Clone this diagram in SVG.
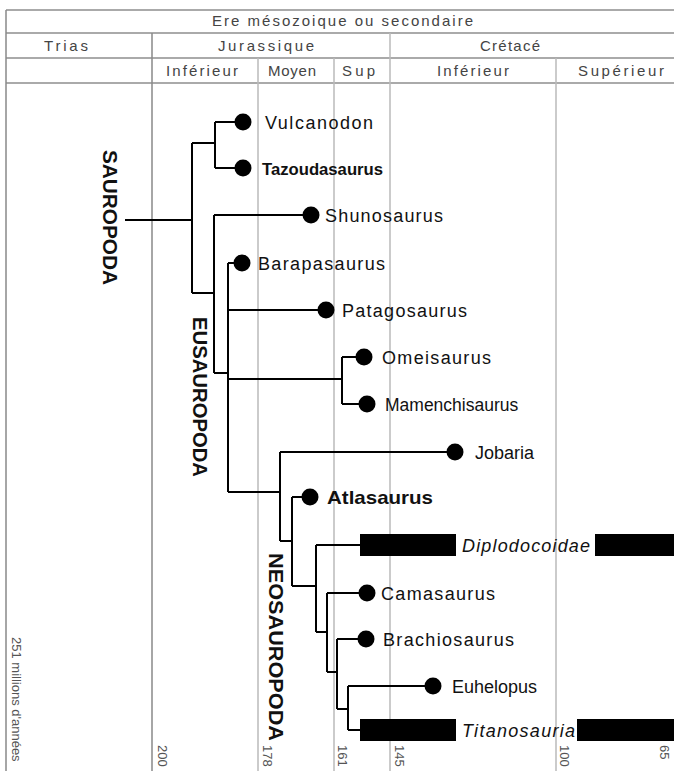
<svg xmlns="http://www.w3.org/2000/svg" width="674" height="771" viewBox="0 0 674 771">
<style>
.hdr{font-family:"Liberation Sans",Arial,sans-serif;font-size:15px;fill:#444}
.lab{font-family:"Liberation Sans",Arial,sans-serif;font-size:18px;fill:#111}
.bold{font-weight:bold;font-size:17px}
.it{font-style:italic}
.clade{font-family:"Liberation Sans",Arial,sans-serif;font-size:20px;font-weight:bold;fill:#111}
.num{font-family:"Liberation Sans",Arial,sans-serif;font-size:13px;fill:#555}
.grid{stroke:#bbb;stroke-width:1.5;fill:none}
.gridd{stroke:#888;stroke-width:1.5;fill:none}
.hl{stroke:#aaa;stroke-width:2;fill:none}
.tree{stroke:#000;stroke-width:2;fill:none}
.dot{fill:#000}
.bar{fill:#000}
</style>
<rect width="674" height="771" fill="#fff"/>
<g id="header">
<path class="hl" d="M6,10 H674 M6,33 H674 M6,58 H674 M6,83 H674"/>
<path class="gridd" d="M6,10 V771"/>
<text class="hdr" x="212" y="26" textLength="261">Ere mésozoique ou secondaire</text>
<text class="hdr" x="44" y="51" textLength="44">Trias</text>
<text class="hdr" x="218" y="51" textLength="96">Jurassique</text>
<text class="hdr" x="480" y="51" textLength="60">Crétacé</text>
<text class="hdr" x="166" y="76" textLength="72">Inférieur</text>
<text class="hdr" x="268" y="76" textLength="48">Moyen</text>
<text class="hdr" x="342" y="76" textLength="33">Sup</text>
<text class="hdr" x="437" y="76" textLength="72">Inférieur</text>
<text class="hdr" x="578" y="76" textLength="86">Supérieur</text>
</g>
<g id="grid">
<path class="gridd" d="M152,33 V771"/>
<path class="grid" d="M390,33 V771 M258,58 V771 M334,58 V771 M556,58 V771"/>
</g>
<g id="timescale">
<text class="num" transform="translate(12,637) rotate(90)">251 millions d'années</text>
<text class="num" transform="translate(158,745) rotate(90)">200</text>
<text class="num" transform="translate(263,745) rotate(90)">178</text>
<text class="num" transform="translate(338,745) rotate(90)">161</text>
<text class="num" transform="translate(395,745) rotate(90)">145</text>
<text class="num" transform="translate(560,745) rotate(90)">100</text>
<text class="num" transform="translate(660,745) rotate(90)">65</text>
</g>
<g id="connectors">
<path class="tree" d="M125,220 H192 M192,143 V293 M192,143 H215 M215,122 V168 M215,122 H243 M215,168 H243
M192,293 H214 M214,215 V373 M214,215 H311 M214,373 H228 M228,263 V492 M228,263 H242 M228,310 H326 M228,379 H342
M342,357 V404 M342,357 H364 M342,404 H367 M228,492 H280 M280,452 V541 M280,452 H455 M280,541 H292
M292,497 V586 M292,497 H310 M292,586 H316 M316,545 V632 M316,545 H360 M316,632 H327 M327,593 V672 M327,593 H367
M327,672 H337 M337,639 V709 M337,639 H366 M337,709 H348 M348,686 V730 M348,686 H433 M348,730 H360"/>
</g>
<g id="sauropoda"><text class="clade" transform="translate(103,150) rotate(90)" textLength="135" lengthAdjust="spacingAndGlyphs">SAUROPODA</text></g>
<g id="eusauropoda"><text class="clade" transform="translate(193,317) rotate(90)" textLength="160" lengthAdjust="spacingAndGlyphs">EUSAUROPODA</text></g>
<g id="neosauropoda"><text class="clade" transform="translate(269,553) rotate(90)" textLength="188" lengthAdjust="spacingAndGlyphs">NEOSAUROPODA</text></g>
<g id="vulcanodon"><circle class="dot" cx="243" cy="122" r="8.5"/><text class="lab" x="265" y="128.5" textLength="108">Vulcanodon</text></g>
<g id="tazoudasaurus"><circle class="dot" cx="243" cy="168" r="8.5"/><text class="lab bold" x="262" y="174.5" textLength="121" lengthAdjust="spacingAndGlyphs">Tazoudasaurus</text></g>
<g id="shunosaurus"><circle class="dot" cx="311" cy="215" r="8.5"/><text class="lab" x="325" y="221.5" textLength="118">Shunosaurus</text></g>
<g id="barapasaurus"><circle class="dot" cx="242" cy="263" r="8.5"/><text class="lab" x="258" y="269.5" textLength="127">Barapasaurus</text></g>
<g id="patagosaurus"><circle class="dot" cx="326" cy="310" r="8.5"/><text class="lab" x="342" y="316.5" textLength="125">Patagosaurus</text></g>
<g id="omeisaurus"><circle class="dot" cx="364" cy="357" r="8.5"/><text class="lab" x="382" y="363.5" textLength="109">Omeisaurus</text></g>
<g id="mamenchisaurus"><circle class="dot" cx="367" cy="404" r="8.5"/><text class="lab" x="385" y="410.5" style="font-size:17.5px">Mamenchisaurus</text></g>
<g id="jobaria"><circle class="dot" cx="455" cy="452" r="8.5"/><text class="lab" x="475" y="458.5">Jobaria</text></g>
<g id="atlasaurus"><circle class="dot" cx="310" cy="497" r="8.5"/><text class="lab bold" x="327" y="503.5" style="font-size:19px" textLength="106" lengthAdjust="spacingAndGlyphs">Atlasaurus</text></g>
<g id="diplodocoidae"><rect class="bar" x="360" y="534" width="96" height="22"/><text class="lab it" x="462" y="551.5" textLength="128">Diplodocoidae</text><rect class="bar" x="595" y="534" width="79" height="22"/></g>
<g id="camasaurus"><circle class="dot" cx="367" cy="593" r="8.5"/><text class="lab" x="381" y="599.5" textLength="114">Camasaurus</text></g>
<g id="brachiosaurus"><circle class="dot" cx="366" cy="639" r="8.5"/><text class="lab" x="383" y="645.5" textLength="131">Brachiosaurus</text></g>
<g id="euhelopus"><circle class="dot" cx="433" cy="686" r="8.5"/><text class="lab" x="452" y="692.5">Euhelopus</text></g>
<g id="titanosauria"><rect class="bar" x="360" y="719" width="96" height="22"/><text class="lab it" x="462" y="736.5" textLength="113">Titanosauria</text><rect class="bar" x="577" y="719" width="97" height="22"/></g>
</svg>
